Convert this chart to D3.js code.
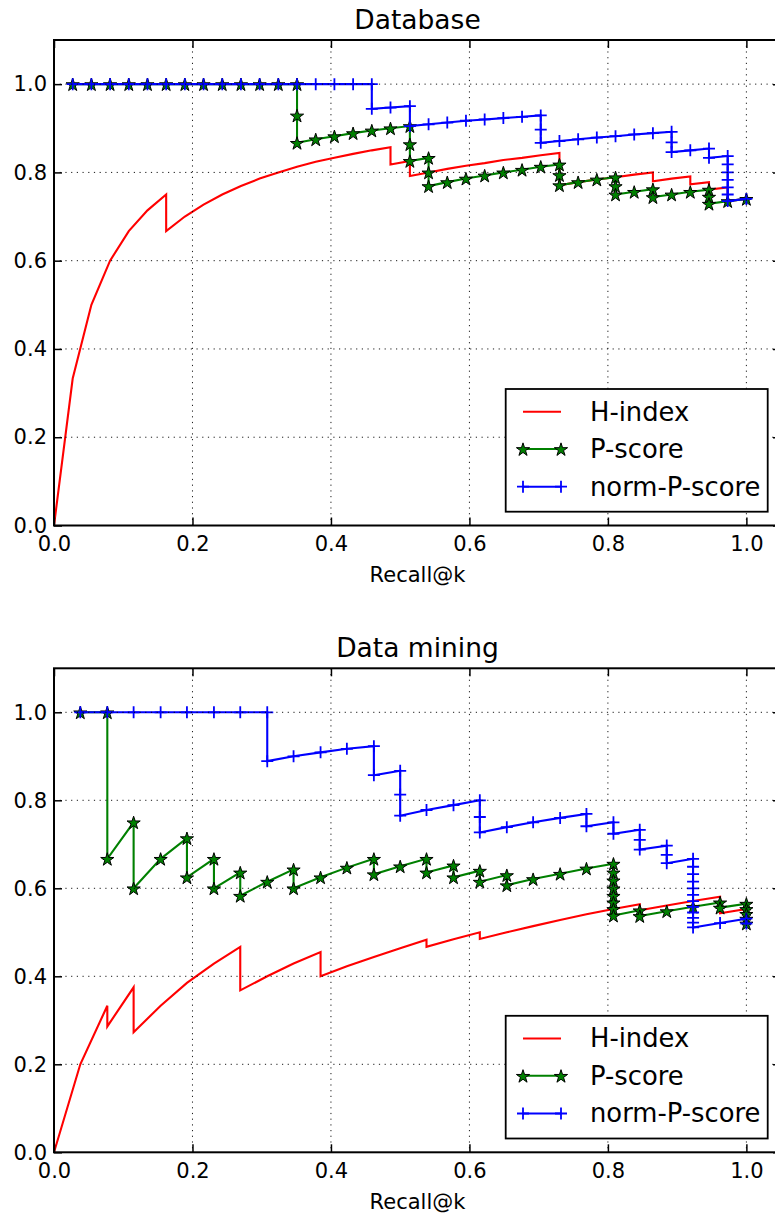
<!DOCTYPE html>
<html><head><meta charset="utf-8">
<script src="https://cdn.jsdelivr.net/npm/d3@7"></script>
<style>
body{margin:0;background:#fff}
svg{display:block}
text{font-family:"DejaVu Sans",sans-serif;fill:#000}
</style>
</head><body>
<svg id="c" width="775" height="1218"></svg>
<script>
const xTicks=[0,0.2,0.4,0.6,0.8,1.0];
const yTicks=[0,0.2,0.4,0.6,0.8,1.0];
const seriesNames=["H-index","P-score","norm-P-score"];
const titles=["Database","Data mining"];
const xLabel="Recall@k";

// Database
const dbHRecall=[0,0,0.027,0.054,0.081,0.108,0.135,0.162,0.162,0.189,0.216,0.243,0.270,0.297,0.324,0.351,0.378,0.405,0.432,0.459,0.486,0.486,0.514,0.514,0.541,0.568,0.595,0.622,0.649,0.676,0.703,0.730,0.730,0.730,0.730,0.757,0.784,0.811,0.838,0.865,0.865,0.892,0.919,0.919,0.946,0.946,0.973,0.973,0.973,1.000];
const dbHPrec=[0,0,0.333,0.500,0.600,0.667,0.714,0.750,0.667,0.700,0.727,0.750,0.769,0.786,0.800,0.813,0.824,0.833,0.842,0.850,0.857,0.818,0.826,0.792,0.800,0.808,0.815,0.821,0.828,0.833,0.839,0.844,0.818,0.794,0.771,0.778,0.784,0.789,0.795,0.800,0.780,0.786,0.791,0.773,0.778,0.761,0.766,0.750,0.735,0.740];
const dbPRecall=[0.027,0.054,0.081,0.108,0.135,0.162,0.189,0.216,0.243,0.270,0.297,0.324,0.351,0.351,0.351,0.378,0.405,0.432,0.459,0.486,0.514,0.514,0.514,0.541,0.541,0.541,0.568,0.595,0.622,0.649,0.676,0.703,0.730,0.730,0.730,0.757,0.784,0.811,0.811,0.811,0.838,0.865,0.865,0.892,0.919,0.946,0.946,0.946,0.973,1.000];
const dbPPrec=[1,1,1,1,1,1,1,1,1,1,1,1,1,0.929,0.867,0.875,0.882,0.889,0.895,0.900,0.905,0.864,0.826,0.833,0.800,0.769,0.778,0.786,0.793,0.800,0.806,0.813,0.818,0.794,0.771,0.778,0.784,0.789,0.769,0.750,0.756,0.762,0.744,0.750,0.756,0.761,0.745,0.729,0.735,0.740];
const dbNRecall=[0.027,0.054,0.081,0.108,0.135,0.162,0.189,0.216,0.243,0.270,0.297,0.324,0.351,0.378,0.405,0.432,0.459,0.459,0.486,0.514,0.514,0.541,0.568,0.595,0.622,0.649,0.676,0.703,0.703,0.703,0.730,0.757,0.784,0.811,0.838,0.865,0.892,0.892,0.892,0.919,0.946,0.946,0.973,0.973,0.973,0.973,0.973,0.973,0.973,1.000];
const dbNPrec=[1,1,1,1,1,1,1,1,1,1,1,1,1,1,1,1,1,0.944,0.947,0.950,0.905,0.909,0.913,0.917,0.920,0.923,0.926,0.929,0.897,0.867,0.871,0.875,0.879,0.882,0.886,0.889,0.892,0.868,0.846,0.850,0.854,0.833,0.837,0.818,0.800,0.783,0.766,0.750,0.735,0.740];

// Data mining
const dmHRecall=[0,0,0,0,0.038,0.077,0.077,0.115,0.115,0.115,0.115,0.154,0.192,0.231,0.269,0.269,0.269,0.269,0.269,0.308,0.346,0.385,0.385,0.385,0.385,0.423,0.462,0.500,0.538,0.538,0.577,0.615,0.615,0.654,0.692,0.731,0.769,0.808,0.846,0.846,0.885,0.923,0.962,0.962,0.962,0.962,1.000,1.000,1.000,1.000];
const dmHPrec=[0,0,0,0,0.200,0.333,0.286,0.375,0.333,0.300,0.273,0.333,0.385,0.429,0.467,0.438,0.412,0.389,0.368,0.400,0.429,0.455,0.435,0.417,0.400,0.423,0.444,0.464,0.483,0.467,0.484,0.500,0.485,0.500,0.514,0.528,0.541,0.553,0.564,0.550,0.561,0.571,0.581,0.568,0.556,0.543,0.553,0.542,0.531,0.520];
const dmPRecall=[0.038,0.077,0.077,0.115,0.115,0.154,0.192,0.192,0.231,0.231,0.269,0.269,0.308,0.346,0.346,0.385,0.423,0.462,0.462,0.500,0.538,0.538,0.577,0.577,0.615,0.615,0.654,0.654,0.692,0.731,0.769,0.808,0.808,0.808,0.808,0.808,0.808,0.808,0.808,0.846,0.846,0.885,0.923,0.962,0.962,1.000,1.000,1.000,1.000,1.000];
const dmPPrec=[1.000,1.000,0.667,0.750,0.600,0.667,0.714,0.625,0.667,0.600,0.636,0.583,0.615,0.643,0.600,0.625,0.647,0.667,0.632,0.650,0.667,0.636,0.652,0.625,0.640,0.615,0.630,0.607,0.621,0.633,0.645,0.656,0.636,0.618,0.600,0.583,0.568,0.553,0.538,0.550,0.537,0.548,0.558,0.568,0.556,0.565,0.553,0.542,0.531,0.520];
const dmNRecall=[0.038,0.077,0.115,0.154,0.192,0.231,0.269,0.308,0.308,0.346,0.385,0.423,0.462,0.462,0.500,0.500,0.500,0.538,0.577,0.615,0.615,0.615,0.654,0.692,0.731,0.769,0.769,0.808,0.808,0.846,0.846,0.846,0.885,0.885,0.885,0.923,0.923,0.923,0.923,0.923,0.923,0.923,0.923,0.923,0.923,0.923,0.923,0.962,1.000,1.000];
const dmNPrec=[1,1,1,1,1,1,1,1,0.889,0.900,0.909,0.917,0.923,0.857,0.867,0.813,0.765,0.778,0.789,0.800,0.762,0.727,0.739,0.750,0.760,0.769,0.741,0.750,0.724,0.733,0.710,0.688,0.697,0.676,0.657,0.667,0.649,0.632,0.615,0.600,0.585,0.571,0.558,0.545,0.533,0.522,0.511,0.521,0.531,0.520];

const colors=["#ff0000","#008000","#0000ff"];
const markers=[null,"star","plus"];

const svg=d3.select("#c");
const L=54, R=781;
const panels=[
  {title:titles[0], top:40, bottom:525.5, data:[[dbHRecall,dbHPrec],[dbPRecall,dbPPrec],[dbNRecall,dbNPrec]]},
  {title:titles[1], top:668.3, bottom:1152.3, data:[[dmHRecall,dmHPrec],[dmPRecall,dmPPrec],[dmNRecall,dmNPrec]]}
];

const starPath=d3.symbol(d3.symbolStar,54)();
const plusPath="M-6,0H6M0,-6V6";
function drawMarker(g,type,color,px,py){
  if(type==="star"){
    g.append("path").attr("d",starPath).attr("transform",`translate(${px},${py+0.8})`)
      .attr("fill",color).attr("stroke","#000").attr("stroke-width",1);
  } else if(type==="plus"){
    g.append("path").attr("d",plusPath).attr("transform",`translate(${px},${py})`)
      .attr("fill","none").attr("stroke",color).attr("stroke-width",1.8);
  }
}

panels.forEach((p,pi)=>{
  const x=d3.scaleLinear().domain([0,1.05]).range([L,R]);
  const y=d3.scaleLinear().domain([0,1.1]).range([p.bottom,p.top]);
  const g=svg.append("g");
  const clipId="clip"+pi;
  g.append("clipPath").attr("id",clipId).append("rect")
    .attr("x",L).attr("y",p.top).attr("width",R-L).attr("height",p.bottom-p.top);

  // series
  p.data.forEach((s,si)=>{
    const [rx,ry]=s;
    const line=d3.line().x((d,i)=>x(rx[i])).y((d,i)=>y(ry[i]));
    g.append("path").datum(rx).attr("d",line).attr("fill","none")
      .attr("stroke",colors[si]).attr("stroke-width",2.1).attr("stroke-linejoin","miter")
      .attr("clip-path",`url(#${clipId})`);
    if(markers[si]){
      const mg=g.append("g");
      rx.forEach((v,i)=>drawMarker(mg,markers[si],colors[si],x(v),y(ry[i])));
    }
  });

  // grid
  const grid=g.append("g").attr("stroke","#000").attr("stroke-width",0.9).attr("stroke-dasharray","1.2,4.5");
  xTicks.filter(v=>v>0).forEach(v=>grid.append("line").attr("x1",x(v)).attr("x2",x(v)).attr("y1",p.top).attr("y2",p.bottom));
  yTicks.filter(v=>v>0).forEach(v=>grid.append("line").attr("x1",L).attr("x2",R).attr("y1",y(v)).attr("y2",y(v)));

  // axes
  const fmt=d3.format(".1f");
  const axB=g.append("g").attr("transform",`translate(0,${p.bottom})`)
    .call(d3.axisBottom(x).tickValues(xTicks).tickFormat(fmt).tickSizeInner(-8).tickSizeOuter(0).tickPadding(10.5));
  const axT=g.append("g").attr("transform",`translate(0,${p.top})`)
    .call(d3.axisTop(x).tickValues(xTicks).tickFormat("").tickSizeInner(-8).tickSizeOuter(0));
  const axL=g.append("g").attr("transform",`translate(${L},0)`)
    .call(d3.axisLeft(y).tickValues(yTicks).tickFormat(fmt).tickSizeInner(-8).tickSizeOuter(0).tickPadding(7));
  const axR=g.append("g").attr("transform",`translate(${R},0)`)
    .call(d3.axisRight(y).tickValues(yTicks).tickFormat("").tickSizeInner(-8).tickSizeOuter(0));
  [axB,axT,axL,axR].forEach(a=>{
    a.select(".domain").remove();
    a.selectAll(".tick line").attr("stroke","#000").attr("stroke-width",1.5);
    a.selectAll("text").style("font-family","DejaVu Sans").style("font-size","21px").attr("fill","#000");
  });

  // spines
  g.append("rect").attr("x",L).attr("y",p.top).attr("width",R-L).attr("height",p.bottom-p.top)
    .attr("fill","none").attr("stroke","#000").attr("stroke-width",2);

  // title & xlabel
  g.append("text").attr("x",(L+R)/2).attr("y",p.top-11).attr("text-anchor","middle")
    .style("font-size","26.5px").text(p.title);
  g.append("text").attr("x",(L+R)/2).attr("y",p.bottom+56.5).attr("text-anchor","middle")
    .style("font-size","21px").text(xLabel);

  // legend
  const lx0=505.7, lx1=767.7, lb=p.bottom-13.8, lt=lb-122.7;
  const lg=g.append("g");
  lg.append("rect").attr("x",lx0).attr("y",lt).attr("width",lx1-lx0).attr("height",lb-lt)
    .attr("fill","#fff").attr("stroke","#000").attr("stroke-width",1.8);
  const rowOff=[22.7,60,97.7];
  seriesNames.forEach((name,si)=>{
    const ry=lt+rowOff[si];
    lg.append("line").attr("x1",523).attr("x2",561).attr("y1",ry).attr("y2",ry)
      .attr("stroke",colors[si]).attr("stroke-width",2.1);
    if(markers[si]){ drawMarker(lg,markers[si],colors[si],523,ry); drawMarker(lg,markers[si],colors[si],561,ry); }
    lg.append("text").attr("x",590).attr("y",ry+8.8).style("font-size","25.8px").text(name);
  });
});
</script>
</body></html>
